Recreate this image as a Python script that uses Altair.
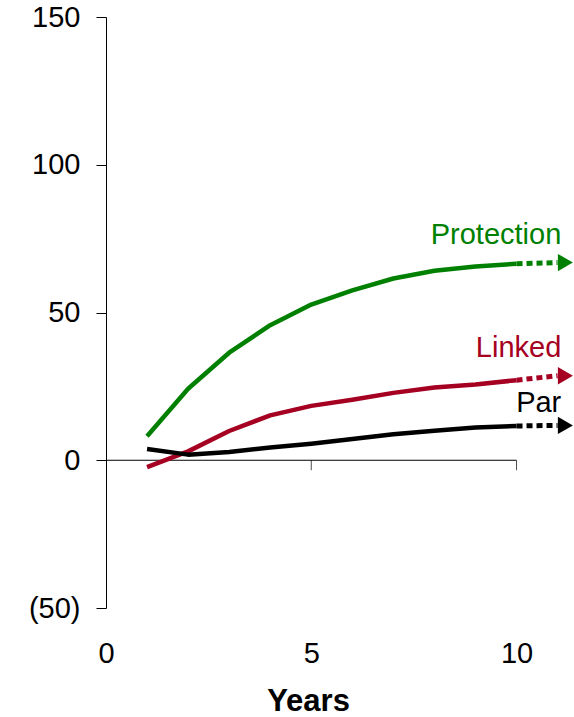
import altair as alt
import pandas as pd

# Yearly values for each product line
years = list(range(1, 11))
protection = [8.1, 24.2, 36.4, 45.7, 52.7, 57.5, 61.5, 64.1, 65.6, 66.5]
linked = [-2.3, 3.0, 9.9, 15.2, 18.4, 20.5, 22.8, 24.6, 25.6, 27.1]
par = [3.8, 1.9, 2.8, 4.3, 5.6, 7.2, 8.8, 10.0, 11.1, 11.6]

series_names = ["Protection", "Linked", "Par"]
series_colors = ["#008000", "#A50021", "#000000"]

# Trend continuation: dotted run beyond year 10 ending in an arrowhead
trend_end_x = [11.0, 11.0, 11.0]
trend_end_y = [66.9, 28.6, 11.8]
arrow_x = [11.19, 11.19, 11.19]

# Series labels placed above each arrow
label_x = [11.09, 11.09, 11.09]
label_y = [73.3, 34.9, 16.3]

x_ticks = [0, 5, 10]
y_ticks = [-50, 0, 50, 100, 150]

FONT = "Liberation Sans"

rows = []
for name, vals in zip(series_names, [protection, linked, par]):
    for yr, v in zip(years, vals):
        rows.append({"series": name, "year": yr, "value": v})
lines_df = pd.DataFrame(rows)

trend_rows = []
for i, (name, vals) in enumerate(zip(series_names, [protection, linked, par])):
    trend_rows.append({"series": name, "year": years[-1], "value": vals[-1], "order": 0})
    trend_rows.append({"series": name, "year": trend_end_x[i], "value": trend_end_y[i], "order": 1})
trend_df = pd.DataFrame(trend_rows)

arrow_df = pd.DataFrame({"series": series_names, "x": arrow_x, "y": trend_end_y})
label_df = pd.DataFrame({"series": series_names, "x": label_x, "y": label_y})

x_scale = alt.Scale(domain=[0, 11.4], nice=False)
y_scale = alt.Scale(domain=[-50, 150], nice=False)
color_scale = alt.Scale(domain=series_names, range=series_colors)

x_axis = alt.Axis(
    values=x_ticks, domain=False, ticks=False, tickSize=0, grid=False,
    labelFlush=False, labelOverlap=False,
    labelFontSize=29, labelFont=FONT, labelColor="black", labelPadding=31,
    title="Years", titleFont=FONT, titleFontSize=31, titleFontWeight="bold",
    titleColor="black", titlePadding=18, titleX=202, titleAnchor="middle",
)
y_axis = alt.Axis(
    values=y_ticks, domain=True, domainColor="black", domainWidth=1,
    ticks=True, tickColor="black", tickSize=10, tickWidth=1, grid=False,
    labelFontSize=29, labelFont=FONT, labelColor="black", labelPadding=16,
    labelExpr="datum.value < 0 ? '(' + abs(datum.value) + ')' : datum.value",
    title=None,
)

lines = alt.Chart(lines_df).mark_line(strokeWidth=4.5, strokeJoin="round").encode(
    x=alt.X("year:Q", scale=x_scale, axis=x_axis),
    y=alt.Y("value:Q", scale=y_scale, axis=y_axis),
    color=alt.Color("series:N", scale=color_scale, legend=None),
    detail="series:N",
)

trend = alt.Chart(trend_df).mark_line(strokeWidth=5, strokeDash=[6, 4], strokeCap="butt").encode(
    x=alt.X("year:Q", scale=x_scale),
    y=alt.Y("value:Q", scale=y_scale),
    color=alt.Color("series:N", scale=color_scale, legend=None),
    detail="series:N",
    order="order:Q",
)

arrows = alt.Chart(arrow_df).mark_point(shape="triangle-right", size=300, filled=True, opacity=1).encode(
    x=alt.X("x:Q", scale=x_scale),
    y=alt.Y("y:Q", scale=y_scale),
    color=alt.Color("series:N", scale=color_scale, legend=None),
)

labels = alt.Chart(label_df).mark_text(align="right", baseline="alphabetic", fontSize=29, font=FONT).encode(
    x=alt.X("x:Q", scale=x_scale),
    y=alt.Y("y:Q", scale=y_scale),
    text="series:N",
    color=alt.Color("series:N", scale=color_scale, legend=None),
)

# Horizontal axis line through zero, spanning years 0 to 10
zero_df = pd.DataFrame({"x": [x_ticks[0]], "x2": [x_ticks[-1]], "y": [0]})
zero_line = alt.Chart(zero_df).mark_rule(color="black", strokeWidth=1).encode(
    x=alt.X("x:Q", scale=x_scale), x2="x2:Q", y=alt.Y("y:Q", scale=y_scale)
)

# Downward tick marks on the zero line
tick_df = pd.DataFrame({"x": x_ticks[1:], "y": [0] * (len(x_ticks) - 1)})
zero_ticks = alt.Chart(tick_df).mark_tick(orient="vertical", size=10, thickness=1, yOffset=5, color="black").encode(
    x=alt.X("x:Q", scale=x_scale), y=alt.Y("y:Q", scale=y_scale)
)

chart = alt.layer(zero_line, zero_ticks, lines, trend, arrows, labels).properties(
    width=468, height=591,
    padding={"left": 106, "top": 17, "right": 0, "bottom": 109},
    autosize=alt.AutoSizeParams(type="none"),
    background="white",
).configure_view(stroke=None)

chart.save("out.html", embed_options={"renderer": "svg", "actions": False})
